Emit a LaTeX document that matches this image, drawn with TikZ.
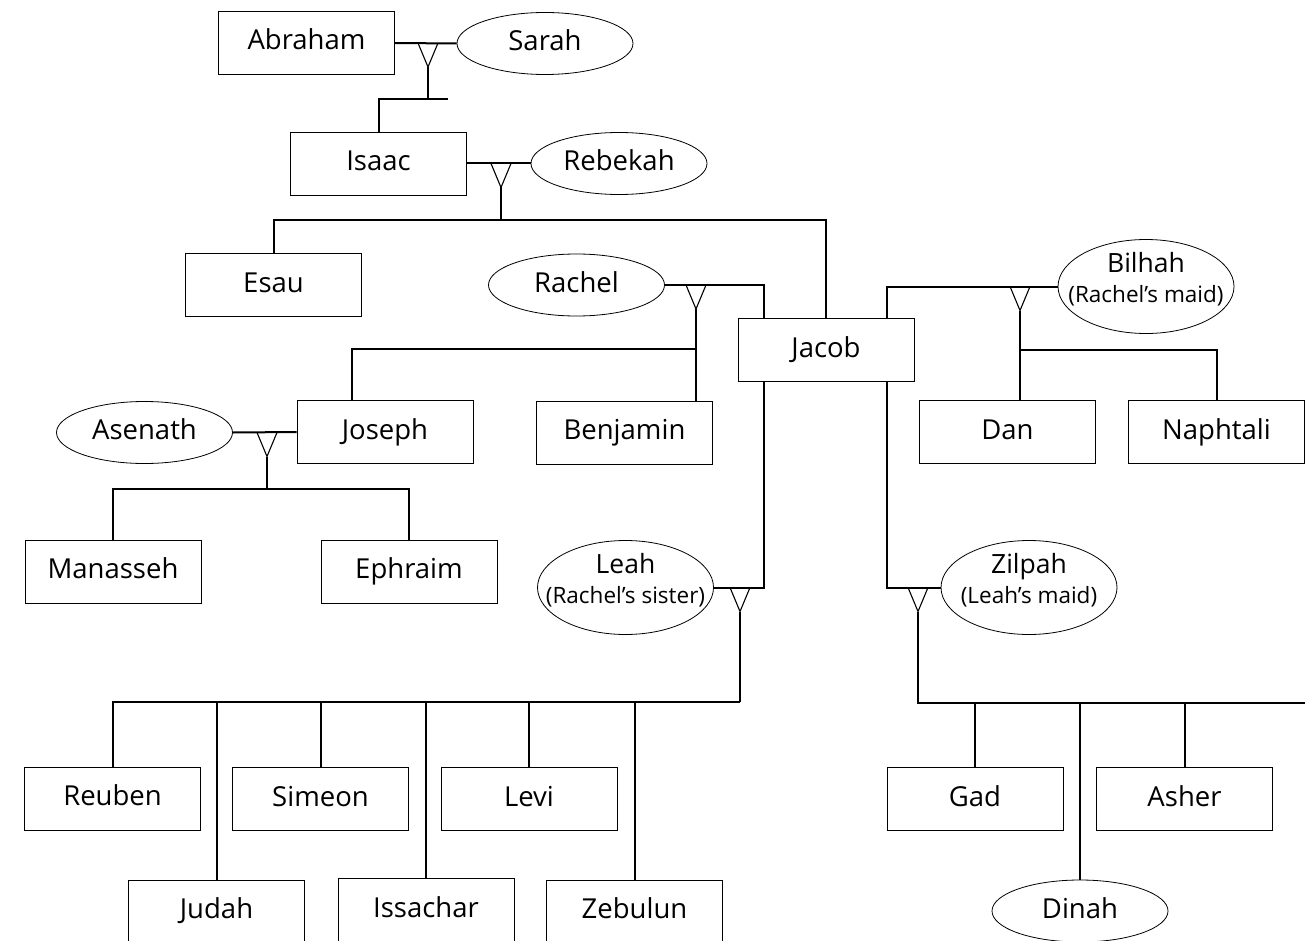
\documentclass[tikz,border=0pt]{standalone}
\usepackage{fontspec}
\setmainfont{Open Sans}
\usetikzlibrary{shapes.geometric,calc}
\newcommand\marriagefork[1]{\draw[fork] ($(#1)+(-10,0)$) -- ($(#1)+(0,24)$) -- ($(#1)+(10,0)$);}
\begin{document}
\begin{tikzpicture}[x=1pt,y=-1pt,
  person/.style={draw, line width=0.8pt, minimum width=176pt, minimum height=63pt, inner sep=0pt,
    font=\fontsize{27.5}{30}\selectfont, text height=20pt, text depth=6pt},
  wife/.style={draw, ellipse, line width=0.8pt, minimum width=176pt, minimum height=62pt, inner sep=0pt,
    font=\fontsize{27.5}{30}\selectfont, text height=20pt, text depth=6pt},
  wifetwo/.style={draw, ellipse, line width=0.8pt, minimum width=176pt, minimum height=94pt, inner sep=0pt},
  lineone/.style={anchor=base, inner sep=0pt, font=\fontsize{26.5}{30}\selectfont},
  linetwo/.style={anchor=base, inner sep=0pt, font=\fontsize{22.5}{26}\selectfont},
  link/.style={line width=2pt},
  fork/.style={line width=1.1pt, line join=miter},
]
\useasboundingbox (0,0) rectangle (1313,941);
\clip (0,0) rectangle (1313,941);

% ---------- nodes ----------
\node[person] (Abraham) at (306.5,43) {Abraham};
\node[wife] (Sarah) at (545,43.5) {Sarah};
\node[person] (Isaac) at (378.5,163.5) {Isaac};
\node[wife] (Rebekah) at (619,163.5) {Rebekah};
\node[person] (Esau) at (273.5,285) {Esau};
\node[wife] (Rachel) at (576.5,285) {Rachel};
\node[person] (Jacob) at (826,350) {Jacob};
\node[wifetwo] (Bilhah) at (1146,286.5) {};
\node[lineone] (BilhahA) at ($(Bilhah.center)+(0,-14.5)$) {Bilhah};
\node[linetwo] (BilhahB) at ($(Bilhah.center)+(0,16)$) {(Rachel’s maid)};
\node[wife] (Asenath) at (144.5,432.5) {Asenath};
\node[person] (Joseph) at (385,432) {Joseph};
\node[person] (Benjamin) at (624.5,432.5) {Benjamin};
\node[person] (Dan) at (1007.5,432) {Dan};
\node[person] (Naphtali) at (1216.5,432) {Naphtali};
\node[person] (Manasseh) at (113,571.5) {Manasseh};
\node[person] (Ephraim) at (409,571.5) {Ephraim};
\node[wifetwo] (Leah) at (625.5,587.5) {};
\node[lineone] (LeahA) at ($(Leah.center)+(0,-14.5)$) {Leah};
\node[linetwo] (LeahB) at ($(Leah.center)+(0,16)$) {(Rachel’s sister)};
\node[wifetwo] (Zilpah) at (1029,587.5) {};
\node[lineone] (ZilpahA) at ($(Zilpah.center)+(0,-14.5)$) {Zilpah};
\node[linetwo] (ZilpahB) at ($(Zilpah.center)+(0,16)$) {(Leah’s maid)};
\node[person] (Reuben) at (112.5,798.5) {Reuben};
\node[person] (Simeon) at (320.5,799) {Simeon};
\node[person] (Levi) at (529,799) {Levi};
\node[person] (Judah) at (216.5,911.5) {Judah};
\node[person] (Issachar) at (426,910) {Issachar};
\node[person] (Zebulun) at (634.5,911.5) {Zebulun};
\node[person] (Gad) at (975,799) {Gad};
\node[person] (Asher) at (1184.5,799) {Asher};
\node[wife] (Dinah) at (1080,911) {Dinah};

% ---------- coordinates ----------
\coordinate (m1) at (428,43);
\coordinate (j1) at (428,99);
\coordinate (s1) at (448,99);
\coordinate (m2) at (501,163.5);
\coordinate (Jl) at ($(Jacob.north west)+(26,0)$);
\coordinate (Jr) at ($(Jacob.north east)+(-27,0)$);
\coordinate (Jlb) at ($(Jacob.south west)+(26,0)$);
\coordinate (Jrb) at ($(Jacob.south east)+(-27,0)$);
\coordinate (m3) at (696,285);
\coordinate (b3) at (696,349);
\coordinate (jo) at ($(Joseph.north west)+(55,0)$);
\coordinate (m4) at (1020,286.5);
\coordinate (b4) at (1020,350);
\coordinate (m5) at (267,432.5);
\coordinate (m6) at (740,587.5);
\coordinate (bus6) at (740,702);
\coordinate (m7) at (918,587.5);
\coordinate (bus7) at (918,703);
\coordinate (busend) at (1305,703);

% ---------- Abraham & Sarah ----------
\draw[link] (Abraham.east) -- (Sarah.west);
\marriagefork{m1}
\draw[link] ($(m1)+(0,24)$) -- (j1);
\draw[link] (Isaac.north) |- (s1);

% ---------- Isaac & Rebekah ----------
\draw[link] (Isaac.east) -- (Rebekah.west);
\marriagefork{m2}
\draw[link] ($(m2)+(0,24)$) -- (m2 |- 0,220);
\draw[link] (Esau.north) |- ($(Jacob.north)+(0,-98)$) -- (Jacob.north);

% ---------- Jacob & Rachel ----------
\draw[link] (Rachel.east) -| (Jl);
\marriagefork{m3}
\draw[link] ($(m3)+(0,24)$) -- (m3 |- Benjamin.north);
\draw[link] (jo) |- (b3);

% ---------- Jacob & Bilhah ----------
\draw[link] (Jr) |- (Bilhah.west);
\marriagefork{m4}
\draw[link] ($(m4)+(0,24)$) -- (m4 |- Dan.north);
\draw[link] (b4) -| (Naphtali.north);

% ---------- Joseph & Asenath ----------
\draw[link] (Asenath.east) -- (Joseph.west);
\marriagefork{m5}
\draw[link] ($(m5)+(0,24)$) -- (m5 |- 0,489);
\draw[link] (Manasseh.north) -- ++(0,-51) -| (Ephraim.north);

% ---------- Jacob & Leah ----------
\draw[link] (Jlb) |- (Leah.east);
\marriagefork{m6}
\draw[link] ($(m6)+(0,24)$) -- (bus6);
\draw[link] (Reuben.north) |- (bus6);
\foreach \c in {Judah,Simeon,Issachar,Levi,Zebulun}
  \draw[link] (\c.north) -- (\c.north |- bus6);

% ---------- Jacob & Zilpah ----------
\draw[link] (Jrb) |- (Zilpah.west);
\marriagefork{m7}
\draw[link] ($(m7)+(0,24)$) -- (bus7) -- (busend);
\foreach \c in {Gad,Dinah,Asher}
  \draw[link] (\c.north) -- (\c.north |- busend);
\end{tikzpicture}
\end{document}
